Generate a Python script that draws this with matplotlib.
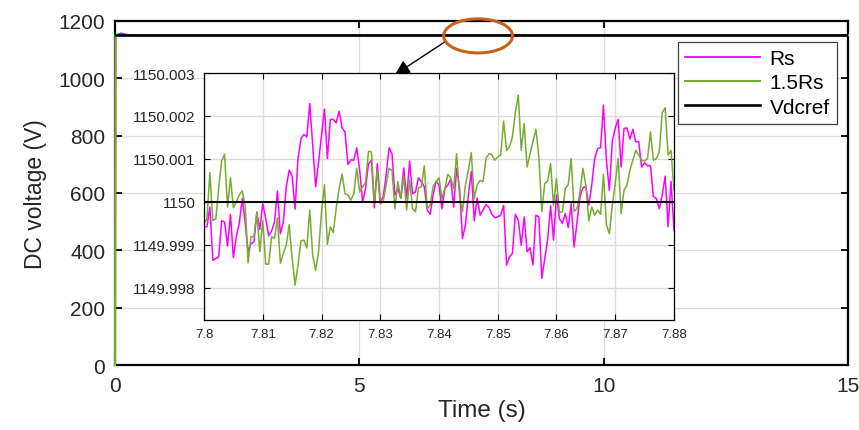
import numpy as np
import matplotlib
matplotlib.use('Agg')
import matplotlib.pyplot as plt
from matplotlib.patches import Ellipse

plt.rcParams['font.family'] = ['Liberation Sans', 'DejaVu Sans']

# main plot: start-up transient, then flat at the reference
t_main = [0, 0.01, 0.12, 0.3, 15]
rs_main = [0, 1150, 1157, 1150, 1150]
rs15_main = [0, 1150, 1151, 1150, 1150]
vdcref = 1150

# zoomed window 7.80 .. 7.88 s, deviation from 1150 V in mV
t0, dt = 7.8, 0.0005
rs_dev = [-0.58, -0.58, -0.12, -1.36, -1.32, -1.28, -0.44, -0.47, -1.03, -0.29,
          -1.30, -0.81, -0.50, 0.08, -0.47, -1.16, -0.97, -0.93, -0.25, -0.64,
          -0.04, -0.39, -0.79, -0.68, -0.47, 0.25, -0.74, -0.47, 0.35, 0.74,
          0.60, -0.17, 1.01, 1.47, 1.57, 1.51, 2.29, 1.32, 0.35, 0.93,
          1.55, 2.16, 1.01, 1.92, 1.92, 1.84, 2.11, 1.72, 1.63, 0.87,
          0.98, 0.97, 1.26, 0.74, 0.00, 0.31, 0.89, 0.97, -0.14, 0.89,
          0.00, 0.12, 0.62, 1.26, 1.12, 0.16, 0.31, 0.08, 0.79, 0.08,
          0.95, 0.19, 0.23, 0.56, 0.47, 0.35, -0.19, -0.29, 0.16, 0.48,
          0.39, -0.16, 0.31, 0.39, 0.53, -0.12, 0.78, 0.31, -0.85, -0.54,
          0.16, 0.71, -0.44, 0.09, -0.31, -0.19, -0.06, -0.12, -0.29, -0.37,
          -0.35, -0.31, -0.08, -1.47, -1.28, -1.20, -0.29, -0.43, -1.01, -0.35,
          -1.16, -1.07, -1.47, -0.31, -0.35, -1.78, -1.33, -0.87, -0.09, -0.89,
          0.16, -0.39, -0.50, -0.27, -0.60, -0.04, -1.05, -0.47, 0.12, 0.33,
          0.36, -0.08, 0.39, 1.01, 1.24, 1.26, 2.25, 0.97, 0.27, 1.40,
          1.72, 1.92, 0.81, 1.71, 1.72, 1.46, 1.69, 1.40, 1.40, 0.81,
          0.91, 0.84, 0.84, 0.12, 0.08, -0.16, 0.16, 0.60, -0.58, 0.48,
          -0.66]
rs15_dev = [-0.50, -0.39, 0.68, -0.43, -0.40, 0.31, 0.95, 1.11, -0.12, 0.56,
            -0.14, 0.00, 0.16, 0.26, -0.08, -1.42, -0.81, -0.81, -0.23, -1.16,
            -0.44, -1.45, -1.45, -0.81, -0.85, -0.37, -1.43, -1.20, -1.01, -0.53,
            -1.32, -1.94, -1.47, -0.91, -0.89, -1.07, -0.19, -1.24, -1.59, -1.16,
            -0.23, 0.40, -0.99, -0.58, -0.71, -0.16, 0.31, 0.65, 0.19, 0.16,
            0.04, 0.19, 0.78, 0.23, 0.35, 0.45, 1.18, 1.16, -0.04, 0.74,
            -0.04, 0.00, 0.39, 0.78, 0.74, -0.16, 0.47, 0.08, 0.60, -0.19,
            0.50, -0.16, -0.23, 0.33, 0.35, 0.84, -0.16, -0.08, 0.36, 0.47,
            0.56, 0.08, 0.31, 0.64, 0.56, 0.31, 1.12, 0.12, -0.23, 0.39,
            0.74, 1.15, 0.08, 0.39, 0.50, 0.47, 1.01, 1.12, 1.10, 0.97,
            1.05, 1.09, 1.88, 1.20, 1.28, 1.51, 2.09, 2.48, 1.20, 1.82,
            0.81, 1.12, 1.40, 1.69, 1.05, -0.23, 0.43, 0.48, 0.89, -0.08,
            0.54, -0.25, -0.23, 0.31, 0.40, 1.01, -0.22, -0.16, 0.23, 0.78,
            0.39, -0.44, -0.12, -0.31, -0.19, -0.29, 0.64, -0.53, -0.74, -0.08,
            0.43, 1.01, -0.27, 0.27, 0.39, 0.74, 0.97, 1.20, 1.09, 0.97,
            0.95, 1.01, 1.63, 0.97, 1.01, 1.16, 2.08, 2.19, 1.09, 1.20,
            0.27]

t_zoom = t0 + dt * np.arange(len(rs_dev))
rs_zoom = vdcref + np.array(rs_dev) * 1e-3
rs15_zoom = vdcref + np.array(rs15_dev) * 1e-3

magenta = '#FF00FF'
green = '#77AC30'
gridc = '#dcdcdc'

fig = plt.figure(figsize=(8.59, 4.31), dpi=100)
ax = fig.add_axes([0.1339, 0.1508, 0.8533, 0.7982])
ax.plot(t_main, rs_main, color=magenta, lw=1.3, label='Rs', clip_on=False, zorder=3)
ax.plot(t_main, rs15_main, color=green, lw=1.5, label='1.5Rs', clip_on=False, zorder=3)
ax.plot([0, 15], [vdcref, vdcref], color='black', lw=1.9, label='Vdcref', zorder=4)
ax.set_xlim(0, 15)
ax.set_ylim(0, 1200)
ax.set_xticks([0, 5, 10, 15])
ax.set_yticks(range(0, 1201, 200))
ax.grid(True, color=gridc, lw=0.9)
ax.tick_params(direction='in', length=5, width=1.3, labelsize=15,
               top=True, right=True, colors='black', labelcolor='#262626')
ax.tick_params(axis='x', pad=8)
ax.tick_params(axis='y', pad=7)
for s in ax.spines.values():
    s.set_linewidth(1.6)
ax.set_xlabel('Time (s)', fontsize=17.5, color='#262626', labelpad=3)
ax.set_ylabel('DC voltage (V)', fontsize=16.5, color='#262626', labelpad=8)

leg = ax.legend(loc='upper right', bbox_to_anchor=(0.985, 0.939), borderaxespad=0,
                fontsize=15, handlelength=3.6, fancybox=False, framealpha=1,
                edgecolor='#404040', labelspacing=0.25, borderpad=0.35,
                handletextpad=0.45)
leg.get_frame().set_linewidth(0.9)
leg.set_zorder(6)

# orange marker around the zoomed area and arrow to the inset
ell = Ellipse((7.43, 1148), 1.41, 119, fill=False, edgecolor='#C8621A', lw=2.2,
              clip_on=False, zorder=5)
ax.add_patch(ell)
ax.annotate('', xy=(5.73, 1013), xytext=(6.75, 1127),
            arrowprops=dict(arrowstyle='-|>', color='black', lw=1.0,
                            mutation_scale=22, shrinkA=0, shrinkB=0))

# inset
axi = fig.add_axes([0.2375, 0.2552, 0.5471, 0.5731])
axi.plot(t_zoom, rs_zoom, color=magenta, lw=1.1)
axi.plot(t_zoom, rs15_zoom, color=green, lw=1.1)
axi.axhline(vdcref, color='black', lw=1.4)
axi.set_xlim(7.8, 7.88)
axi.set_ylim(1149.99725, 1150.003)
xt = [7.8, 7.81, 7.82, 7.83, 7.84, 7.85, 7.86, 7.87, 7.88]
axi.set_xticks(xt)
axi.set_xticklabels(['7.8', '7.81', '7.82', '7.83', '7.84', '7.85', '7.86', '7.87', '7.88'])
yt = [1149.998, 1149.999, 1150.0, 1150.001, 1150.002, 1150.003]
axi.set_yticks(yt)
axi.set_yticklabels(['1149.998', '1149.999', '1150', '1150.001', '1150.002', '1150.003'])
axi.grid(True, color=gridc, lw=1.0)
axi.tick_params(direction='in', length=4, width=0.8, top=True, right=True,
                labelcolor='#262626', pad=6)
axi.tick_params(axis='x', labelsize=9.5)
axi.tick_params(axis='y', labelsize=11)
for s in axi.spines.values():
    s.set_linewidth(0.9)

fig.savefig('out.png', dpi=100)
